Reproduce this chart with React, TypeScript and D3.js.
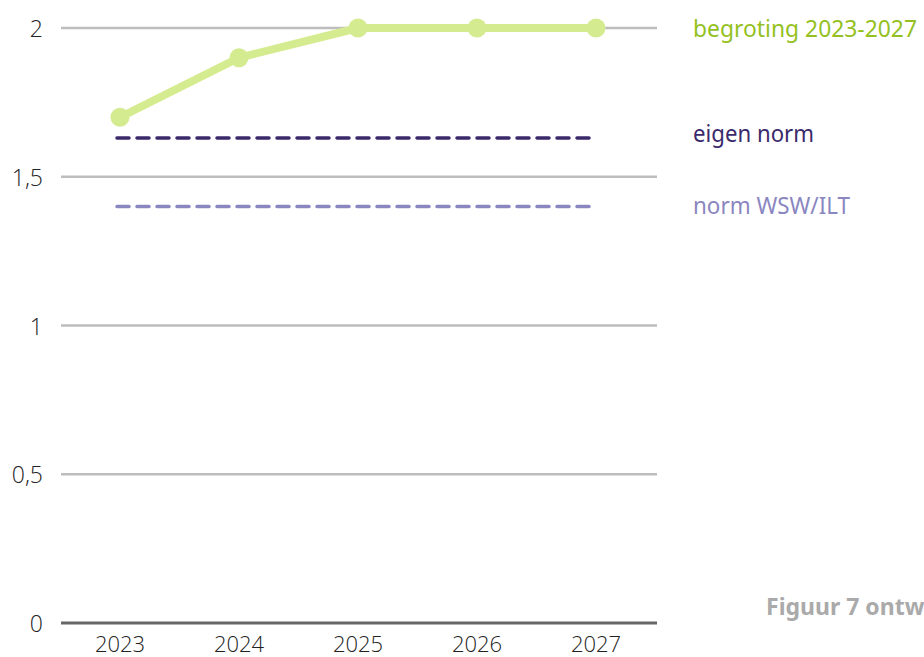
import * as d3 from "d3";

// jaren en waarden
const years = [2023, 2024, 2025, 2026, 2027];
const begroting = [1.7, 1.9, 2.0, 2.0, 2.0];
const eigenNorm = 1.63;
const normWsw = 1.4;
const yTicks = [0, 0.5, 1, 1.5, 2];
const yTickLabels = ["0", "0,5", "1", "1,5", "2"];

const legendLabels = ["begroting 2023-2027", "eigen norm", "norm WSW/ILT"];
const legendColors = ["#94c11f", "#3b2a6b", "#8a86c0"];
// baseline en breedte van elke legendaregel
const legendY = [37, 142, 214];
const legendWidth = [224, 121, 157];

const W = 924;
const H = 657;

export default function App() {
  const x = d3.scalePoint<number>().domain(years).range([120, 596]);
  const y = d3.scaleLinear().domain([0, 2]).range([623, 28]);

  const line = d3
    .line<number>()
    .x((_, i) => x(years[i]) as number)
    .y((d) => y(d));

  const dashX0 = (x(years[0]) as number) - 3;
  const dashX1 = (x(years[years.length - 1]) as number) - 4;

  return (
    <svg
      width={W}
      height={H}
      style={{ position: "absolute", left: 0, top: 0, background: "#fff" }}
    >
      {/* rasterlijnen */}
      {yTicks.map((t, i) => (
        <g key={t}>
          <line
            x1={61}
            x2={657}
            y1={y(t)}
            y2={y(t)}
            stroke={t === 0 ? "#666" : "#bdbdbd"}
            strokeWidth={t === 0 ? 3 : 2.5}
          />
          <text
            x={43}
            y={y(t) + 9}
            textAnchor="end"
            fontFamily="'Open Sans', sans-serif"
            fontWeight={300}
            fontSize={23}
            fill="#222"
          >
            {yTickLabels[i]}
          </text>
        </g>
      ))}

      {/* x-as labels */}
      {years.map((yr) => (
        <text
          key={yr}
          x={x(yr)}
          y={652}
          textAnchor="middle"
          fontFamily="'Open Sans', sans-serif"
          fontWeight={300}
          fontSize={22}
          fill="#222"
        >
          {yr}
        </text>
      ))}

      {/* normlijnen */}
      <line
        x1={dashX0}
        x2={dashX1}
        y1={y(eigenNorm)}
        y2={y(eigenNorm)}
        stroke="#3b2a6b"
        strokeWidth={3.5}
        strokeDasharray="12 8"
        strokeLinecap="round"
      />
      <line
        x1={dashX0}
        x2={dashX1}
        y1={y(normWsw)}
        y2={y(normWsw)}
        stroke="#8a86c0"
        strokeWidth={3.5}
        strokeDasharray="12 8"
        strokeLinecap="round"
      />

      {/* begroting */}
      <path
        d={line(begroting) ?? ""}
        fill="none"
        stroke="#d4eb8f"
        strokeWidth={8}
        strokeLinejoin="round"
      />
      {begroting.map((v, i) => (
        <circle key={i} cx={x(years[i])} cy={y(v)} r={9.5} fill="#d4eb8f" />
      ))}

      {/* legenda */}
      {legendLabels.map((label, i) => (
        <text
          key={label}
          x={693}
          y={legendY[i]}
          fontFamily="'Noto Sans', sans-serif"
          fontSize={23}
          textLength={legendWidth[i]}
          lengthAdjust="spacingAndGlyphs"
          fill={legendColors[i]}
        >
          {label}
        </text>
      ))}

      <text
        x={766}
        y={615}
        fontFamily="'Noto Sans', sans-serif"
        fontWeight={700}
        fontSize={23}
        fill="#aaaaaa"
      >
        Figuur 7 ontwikkeling solvabiliteit
      </text>
    </svg>
  );
}
